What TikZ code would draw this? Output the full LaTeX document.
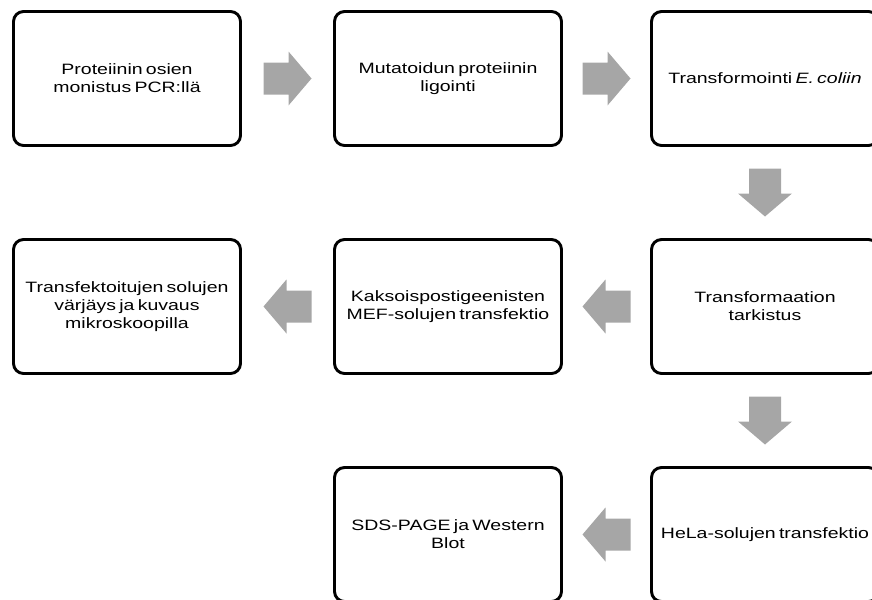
\documentclass[tikz,border=0pt]{standalone}
\usepackage{fontspec}
\setmainfont{Liberation Sans}[FakeStretch=1.3,WordSpace=0.6]
\usetikzlibrary{calc}
\definecolor{arrgray}{HTML}{A6A6A6}

\begin{document}
\begin{tikzpicture}[
  x=0.75pt, y=-0.75pt,
  font=\fontsize{11.25}{13.5}\selectfont,
  stage/.style={draw, line width=2.2pt, rounded corners=7.5pt,
                minimum width=170.25pt, minimum height=100.5pt,
                align=center, inner sep=0pt},
  blockarr/.pic={\fill[arrgray] (-24,-16) -- (1,-16) -- (1,-27) -- (24,0)
                 -- (1,27) -- (1,16) -- (-24,16) -- cycle;}
]
\useasboundingbox (0,0) rectangle (872,600);

\node[stage] (pcr)    at (127,78.5)  {Proteiinin osien\\monistus PCR:llä};
\node[stage] (lig)    at (448,78.5)  {Mutatoidun proteiinin\\ligointi};
\node[stage] (transf) at (765,78.5)  {Transformointi \textit{E. coliin}};

\node[stage] (tark)   at (765,306.5) {Transformaation\\tarkistus};
\node[stage] (mef)    at (448,306.5) {Kaksoispostigeenisten\\MEF-solujen transfektio};
\node[stage] (varj)   at (127,306.5) {Transfektoitujen solujen\\värjäys ja kuvaus\\mikroskoopilla};

\node[stage] (hela)   at (765,534.5) {HeLa-solujen transfektio};
\node[stage] (sds)    at (448,534.5) {SDS-PAGE ja Western\\Blot};

\pic at ($(pcr.east)!0.5!(lig.west)$) {blockarr};
\pic at ($(lig.east)!0.5!(transf.west)$) {blockarr};
\pic[rotate=-90] at ($(transf.south)!0.5!(tark.north)$) {blockarr};
\pic[rotate=180] at ($(tark.west)!0.5!(mef.east)$) {blockarr};
\pic[rotate=180] at ($(mef.west)!0.5!(varj.east)$) {blockarr};
\pic[rotate=-90] at ($(tark.south)!0.5!(hela.north)$) {blockarr};
\pic[rotate=180] at ($(hela.west)!0.5!(sds.east)$) {blockarr};
\end{tikzpicture}
\end{document}
